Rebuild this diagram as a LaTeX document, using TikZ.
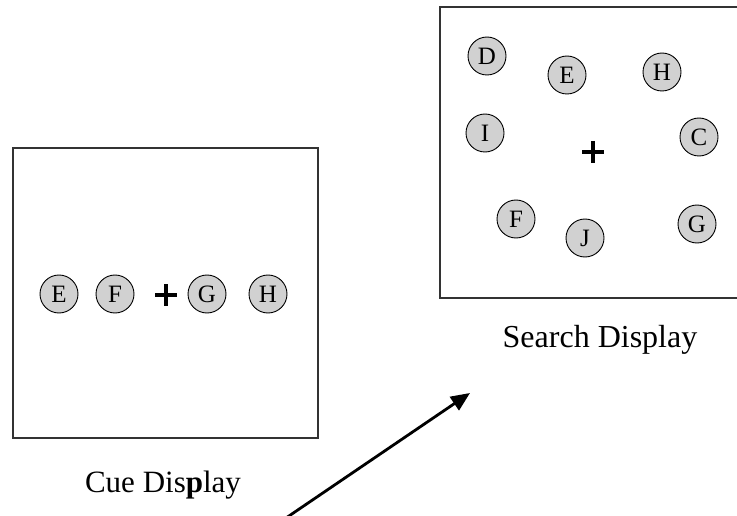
\documentclass[tikz,border=0pt]{standalone}
\usepackage{fontspec}
\setmainfont{Liberation Serif}
\usepackage{tikz}
\usetikzlibrary{arrows.meta}

\tikzset{
  disc/.style={circle,draw=black,line width=0.9pt,fill=black!18,minimum size=38pt,inner sep=0pt,font=\fontsize{25}{27}\selectfont},
  frame/.style={draw=black!80,line width=1.1pt},
  fixcross/.style={line width=3.6pt},
  caption/.style={anchor=base,font=\fontsize{31}{36}\selectfont}
}

\begin{document}
\begin{tikzpicture}[line join=miter,x=1pt,y=-1pt]
\path[use as bounding box,clip] (0,0) rectangle (737,516);
% cue display
\draw[frame] (13,148) rectangle (318,438);
\node[disc] (cE) at (59,294) {E};
\node[disc] (cF) at (115,294) {F};
\node[disc] (cG) at (207,294) {G};
\node[disc] (cH) at (268,294) {H};
\draw[fixcross] (155,295)--(177,295);
\draw[fixcross] (166,284)--(166,306);
\draw (163,492) node[caption] {Cue Dis\textbf{p}lay};
% search display
\draw[frame] (440,7) rectangle (745,298);
\node[disc] (sD) at (487,56) {D};
\node[disc] (sE) at (567,75) {E};
\node[disc] (sH) at (662,72) {H};
\node[disc] (sI) at (485,133) {I};
\node[disc] (sC) at (699,137) {C};
\node[disc] (sF) at (516,219) {F};
\node[disc] (sJ) at (585,238) {J};
\node[disc] (sG) at (697,224) {G};
\draw[fixcross] (582,152)--(604,152);
\draw[fixcross] (593,141)--(593,163);
\draw (600,347) node[caption,font=\fontsize{32}{36}\selectfont] {Search Display};
% arrow
\coordinate (arrowtail) at (286,518);
\coordinate (arrowtip) at (470,393);
\draw[line width=2.8pt,-{Triangle[length=19pt,width=16pt]}] (arrowtail) -- (arrowtip);
\end{tikzpicture}
\end{document}
